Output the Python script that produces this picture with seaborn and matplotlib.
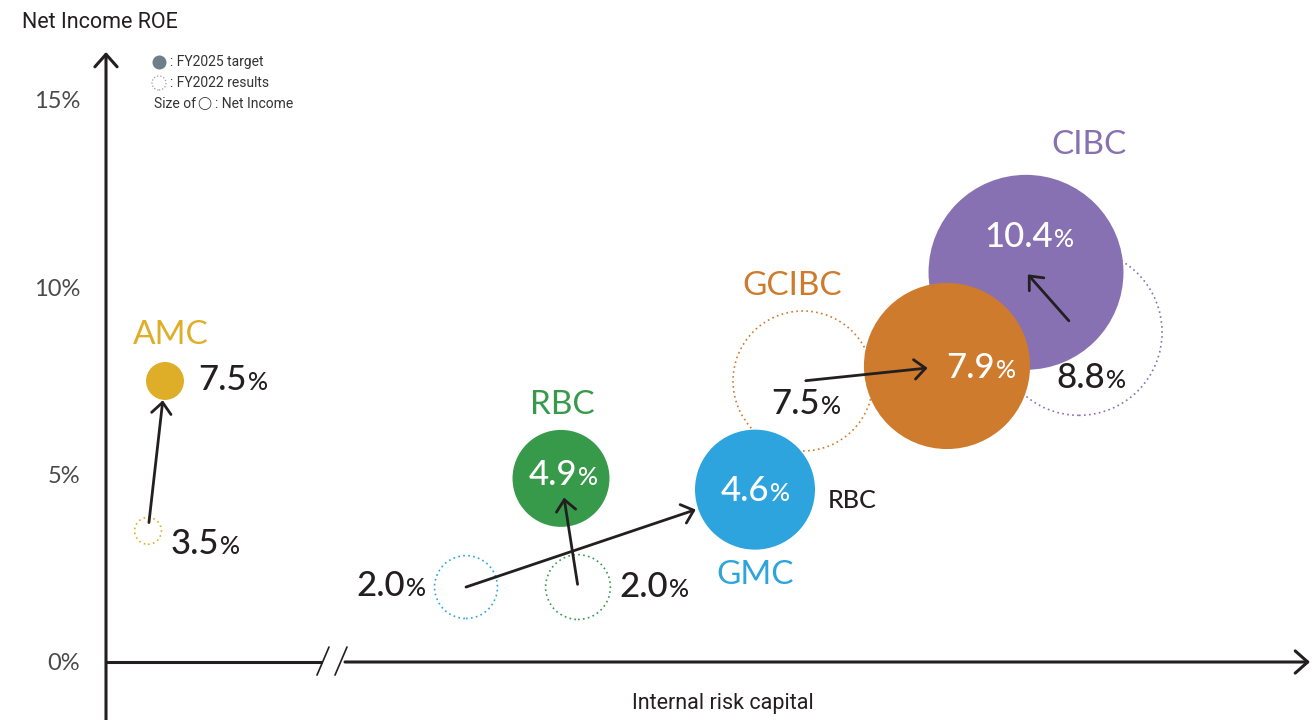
import numpy as np
import pandas as pd
import matplotlib
matplotlib.use("Agg")
import matplotlib.pyplot as plt
import seaborn as sns

# Business units, listed in drawing order (CIBC bubble sits under GCIBC)
companies = ["AMC", "RBC", "GMC", "CIBC", "GCIBC"]
# Net income ROE (%)
roe_fy2025 = [7.5, 4.9, 4.6, 10.4, 7.9]
roe_fy2022 = [3.5, 2.0, 2.0, 8.8, 7.5]
# Internal risk capital (relative units)
risk_capital_fy2025 = [5.9, 45.5, 64.9, 92.0, 84.1]
risk_capital_fy2022 = [4.2, 47.2, 36.0, 97.3, 69.7]
# Net income (relative units, drawn as bubble area)
net_income_fy2025 = [3.6, 23.5, 36.0, 95.0, 69.0]
net_income_fy2022 = [1.8, 10.5, 9.9, 69.0, 49.0]

y_ticks = [0, 5, 10, 15]
y_tick_labels = ["0%", "5%", "10%", "15%"]

palette = {
    "AMC": "#DEAE29",
    "RBC": "#37994A",
    "GMC": "#2DA4DD",
    "GCIBC": "#CE7B2D",
    "CIBC": "#8771B2",
}
DARK = "#231F20"

# label placement (pixels right / down from each bubble centre)
target_label_offset = [(82, 9), (16, 7), (14, 11), (27, -25), (48, 12)]
target_label_color = [DARK, "white", "white", "white", "white"]
result_label_offset = [(71, 23), (90, 10), (-61, 9), (26, 56), (17, 33)]
name_offset = [(6, -37), (1, -64), (0, 94), (63, -118), (-155, -71)]
arrow_shrink_start = [6, 2, 0, 11, 2]
arrow_shrink_end = [14, 14, 45, 2, 14]

sns.set_style("white")
NUM_FONT = ["Lato", "DejaVu Sans"]
NARROW_FONT = ["Liberation Sans Narrow", "Roboto", "DejaVu Sans"]
plt.rcParams["font.family"] = NUM_FONT

W, H = 1312, 720
PT = 0.72  # points per pixel at 100 dpi
PX_PER_PCT = 37.47
AX_LEFT = 106

fig = plt.figure(figsize=(W / 100, H / 100), dpi=100)
ax = fig.add_axes([AX_LEFT / W, 0, 1 - AX_LEFT / W, 1])
ax.set_xlim(0, (W - AX_LEFT) / 10)
ax.set_ylim(-(H - 662) / PX_PER_PCT, 662 / PX_PER_PCT)

df_target = pd.DataFrame({"company": companies, "capital": risk_capital_fy2025,
                          "roe": roe_fy2025, "income": net_income_fy2025})
df_result = pd.DataFrame({"company": companies, "capital": risk_capital_fy2022,
                          "roe": roe_fy2022, "income": net_income_fy2022})

# bubble area proportional to net income: radius_px = 10 * sqrt(income)
size_max = max(net_income_fy2025 + net_income_fy2022)
area_per_unit = (2 * 10 * PT) ** 2
size_kw = dict(size="income", sizes=(0, area_per_unit * size_max),
               size_norm=(0, size_max), legend=False)

# FY2022 results: dotted outlines
sns.scatterplot(data=df_result, x="capital", y="roe", hue="company",
                palette=palette, ax=ax, zorder=2, **size_kw)
ring = ax.collections[-1]
ring.set_facecolor("none")
ring.set_edgecolor([palette[c] for c in companies])
ring.set_linewidth(1.2)
ring.set_linestyle((0, (1, 2)))

# FY2025 targets: filled bubbles
sns.scatterplot(data=df_target, x="capital", y="roe", hue="company",
                palette=palette, ax=ax, zorder=3, linewidth=0, **size_kw)


def pct_label(x, y, value, off, color):
    ox, oy = off[0] * PT, -off[1] * PT
    ax.annotate(f"{value:.1f}", (x, y), xytext=(ox, oy), textcoords="offset points",
                ha="right", va="baseline", fontsize=25, fontweight=500,
                color=color, zorder=6)
    ax.annotate("%", (x, y), xytext=(ox + 0.8, oy), textcoords="offset points",
                ha="left", va="baseline", fontsize=18, fontweight=500,
                color=color, zorder=6)


for i, comp in enumerate(companies):
    x1, y1 = risk_capital_fy2025[i], roe_fy2025[i]
    x0, y0 = risk_capital_fy2022[i], roe_fy2022[i]
    ax.annotate("", xy=(x1, y1), xytext=(x0, y0),
                arrowprops=dict(arrowstyle="->, head_length=0.4, head_width=0.35",
                                mutation_scale=20, lw=2, color=DARK,
                                shrinkA=arrow_shrink_start[i], shrinkB=arrow_shrink_end[i]),
                zorder=5)
    pct_label(x1, y1, y1, target_label_offset[i], target_label_color[i])
    pct_label(x0, y0, y0, result_label_offset[i], DARK)
    ax.annotate(comp, (x1, y1), xytext=(name_offset[i][0] * PT, -name_offset[i][1] * PT),
                textcoords="offset points", ha="center", va="baseline",
                fontsize=24, color=palette[comp], zorder=6)

# extra unit tag beside the GMC bubble
gi = companies.index("GMC")
ax.annotate("RBC", (risk_capital_fy2025[gi], roe_fy2025[gi]), xytext=(97 * PT, -18 * PT),
            textcoords="offset points", ha="center", va="baseline",
            fontsize=18, fontweight=500, color=DARK, zorder=6)

# axes: arrowed lines with a break mark on the horizontal axis
ax_kw = dict(color=DARK, lw=2.2)
y_bot, y_top = ax.get_ylim()
ax.annotate("", xy=(0, (662 - 52) / PX_PER_PCT), xytext=(0, y_bot),
            arrowprops=dict(arrowstyle="->, head_length=0.45, head_width=0.4",
                            mutation_scale=20, shrinkA=0, shrinkB=0, **ax_kw),
            annotation_clip=False)
ax.plot([0, 21.6], [0, 0], solid_capstyle="butt", clip_on=False, **ax_kw)
ax.annotate("", xy=(120.4, 0), xytext=(23.9, 0),
            arrowprops=dict(arrowstyle="->, head_length=0.45, head_width=0.4",
                            mutation_scale=20, shrinkA=0, shrinkB=0, **ax_kw),
            annotation_clip=False)
for xs in (21.1, 22.9):
    ax.plot([xs, xs + 1.2], [-0.35, 0.40], color=DARK, lw=1.2)

ax.set_xticks([])
ax.set_yticks(y_ticks, y_tick_labels)
ax.tick_params(axis="y", length=0, pad=18.5, labelsize=17, labelcolor="#4a4a4a")
for lab in ax.get_yticklabels():
    lab.set_fontweight("normal")
for sp in ax.spines.values():
    sp.set_visible(False)
ax.set_xlabel("")
ax.set_ylabel("")

# axis titles
fig.text(22 / W, 1 - 22 / H, "Net Income ROE", ha="left", va="center",
         fontsize=15.5, color=DARK, family=NARROW_FONT)
fig.text(723 / W, 1 - 703 / H, "Internal risk capital", ha="center", va="center",
         fontsize=15.5, color=DARK, family=NARROW_FONT)

# key
def px_axes(px, py):
    return ((px - AX_LEFT) / (W - AX_LEFT), 1 - py / H)

mk = (2 * 7 * PT) ** 2
ax.scatter(*px_axes(159, 62), s=mk, color="#6E7F89", lw=0, transform=ax.transAxes, clip_on=False)
ax.scatter(*px_axes(159, 83), s=mk, facecolor="none", edgecolor="#9a9a9a", lw=0.9,
           linestyle=(0, (1, 1.6)), transform=ax.transAxes, clip_on=False)
key_kw = dict(ha="left", va="center", fontsize=10, color="#333333",
              family=["Liberation Sans Narrow", "Roboto", "DejaVu Sans"])
fig.text(170 / W, 1 - 62 / H, ": FY2025 target", **key_kw)
fig.text(170 / W, 1 - 83 / H, ": FY2022 results", **key_kw)
fig.text(154 / W, 1 - 104 / H, "Size of", **key_kw)
fig.text(197 / W, 1 - 104 / H, "\u25ef", ha="left", va="center", fontsize=9,
         color="#333333", family=["DejaVu Sans"])
fig.text(215 / W, 1 - 104 / H, ": Net Income", **key_kw)

fig.savefig("out.png", dpi=100)
